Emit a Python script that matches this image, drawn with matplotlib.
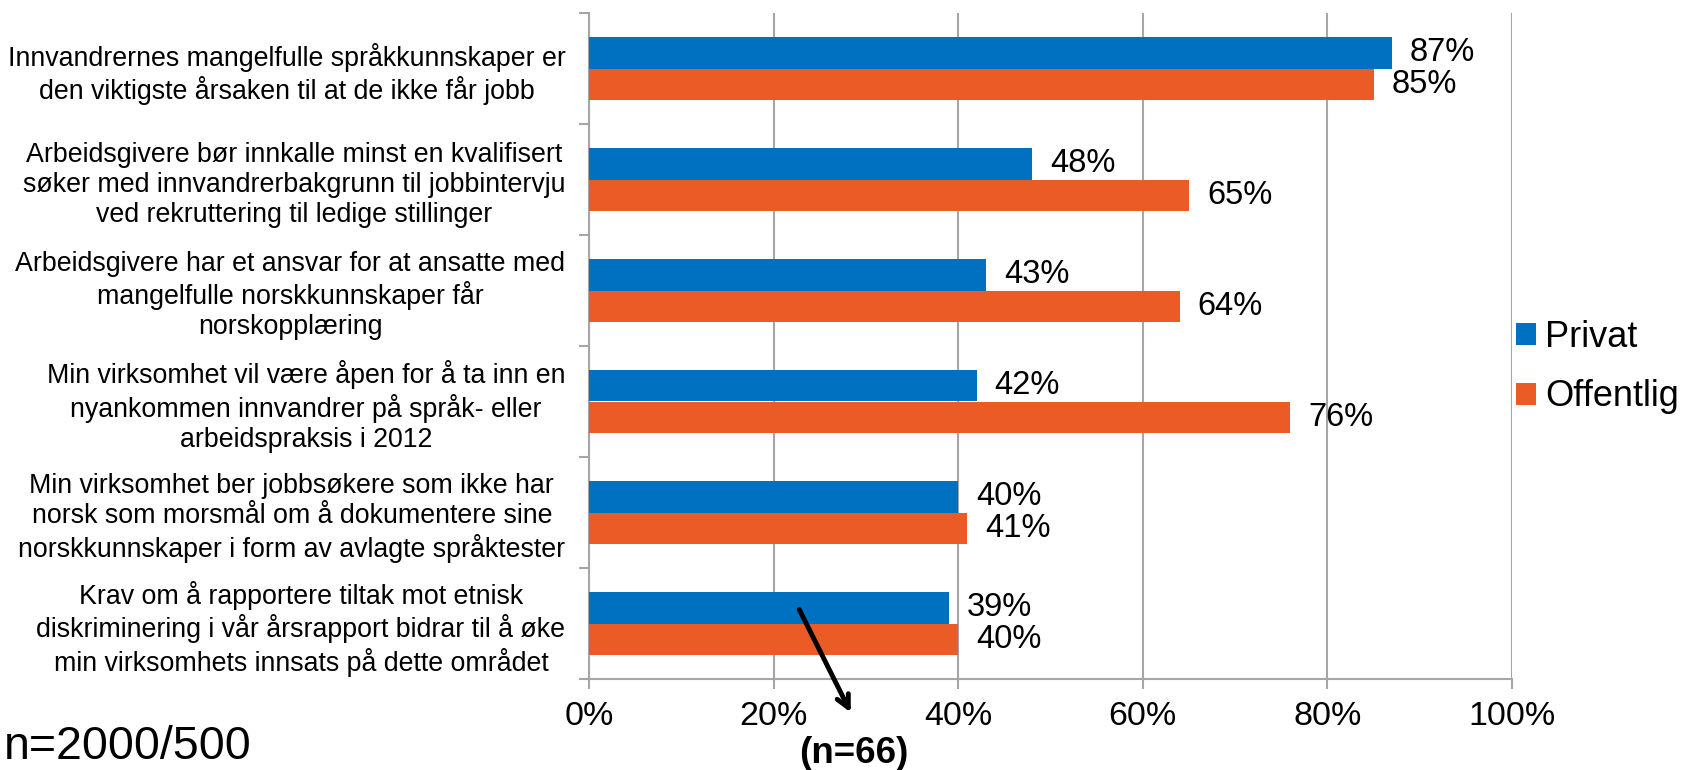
import numpy as np
import matplotlib
matplotlib.use("Agg")
import matplotlib.pyplot as plt

plt.rcParams['font.family'] = ['Liberation Sans', 'DejaVu Sans']

categories = [
    "Innvandrernes mangelfulle språkkunnskaper er\nden viktigste årsaken til at de ikke får jobb",
    "Arbeidsgivere bør innkalle minst en kvalifisert\nsøker med innvandrerbakgrunn til jobbintervju\nved rekruttering til ledige stillinger",
    "Arbeidsgivere har et ansvar for at ansatte med\nmangelfulle norskkunnskaper får\nnorskopplæring",
    "Min virksomhet vil være åpen for å ta inn en\nnyankommen innvandrer på språk- eller\narbeidspraksis i 2012",
    "Min virksomhet ber jobbsøkere som ikke har\nnorsk som morsmål om å dokumentere sine\nnorskkunnskaper i form av avlagte språktester",
    "Krav om å rapportere tiltak mot etnisk\ndiskriminering i vår årsrapport bidrar til å øke\nmin virksomhets innsats på dette området",
]
privat = [87, 48, 43, 42, 40, 39]
offentlig = [85, 65, 64, 76, 41, 40]
series_names = ["Privat", "Offentlig"]
xticks = [0, 20, 40, 60, 80, 100]

blue = "#0070C0"
orange = "#EB5B25"
grid_col = "#A6A6A6"

fig = plt.figure(figsize=(16.85, 7.7), dpi=100)
ax = fig.add_axes([589/1685, 1-679/770, (1512-589)/1685, (679-13)/770])

y = np.arange(len(categories))
h = 0.288
b1 = ax.barh(y - h/2, privat, height=h, color=blue, label=series_names[0], zorder=3)
b2 = ax.barh(y + h/2, offentlig, height=h, color=orange, label=series_names[1], zorder=3)

# value labels right of each bar
for bars, vals in ((b1, privat), (b2, offentlig)):
    for r, v in zip(bars, vals):
        ax.annotate(f"{v}%", (r.get_width(), r.get_y() + r.get_height()/2),
                    xytext=(13, 0), textcoords="offset points",
                    va="center", ha="left", fontsize=23.5)

ax.set_xlim(0, 100)
ax.set_ylim(len(categories) - 0.5, -0.5)
ax.set_xticks(xticks)
ax.set_xticklabels([f"{t}%" for t in xticks], fontsize=24.5)
ax.set_yticks(y)
ax.set_yticklabels(categories, fontsize=19.3, multialignment="center")
ax.set_yticks(np.arange(-0.5, len(categories)), minor=True)
ax.tick_params(axis="y", which="major", length=0, pad=17)
ax.tick_params(axis="y", which="minor", length=7, color=grid_col, width=1.5)
ax.tick_params(axis="x", length=7, color=grid_col, width=1.5, pad=9)

ax.grid(axis="x", color=grid_col, linewidth=1.5, zorder=0)
for s in ["top", "right"]:
    ax.spines[s].set_visible(False)
for s in ["left", "bottom"]:
    ax.spines[s].set_color(grid_col)
    ax.spines[s].set_linewidth(1.5)

fig.legend(handles=[b1, b2], labels=series_names, loc="center left",
           bbox_to_anchor=(1502/1685, 1-367/770), frameon=False, fontsize=26,
           handlelength=0.55, handleheight=0.55, handletextpad=0.25, labelspacing=0.69,
           borderaxespad=0)

fig.text(4/1685, 1-759/770, "n=2000/500", fontsize=33.5, ha="left", va="baseline")
fig.text(854/1685, 1-763/770, "(n=66)", fontsize=26.5, fontweight="bold", ha="center", va="baseline")
ax.annotate("", xy=(852/1685, 1-715/770), xycoords="figure fraction",
            xytext=(798/1685, 1-607/770), textcoords="figure fraction",
            arrowprops=dict(arrowstyle="->,head_length=0.9,head_width=0.45", color="black", lw=3.5),
            annotation_clip=False)

fig.savefig("out.png", dpi=100)
